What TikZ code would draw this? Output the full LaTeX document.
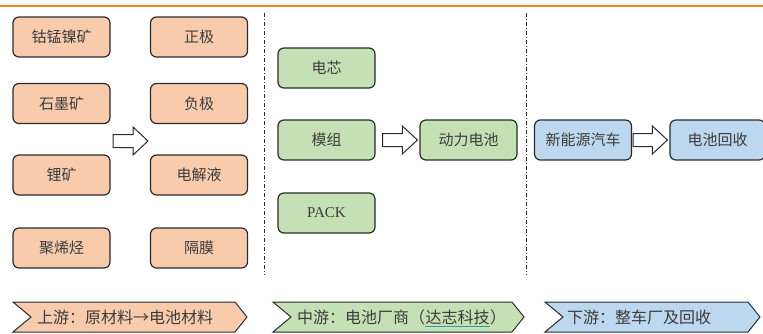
\documentclass[tikz,border=0pt]{standalone}
\usepackage{fontspec}
\setmainfont{Liberation Serif}
\newfontfamily\cjk{Noto Sans CJK SC}
\usetikzlibrary{calc}
\definecolor{orfill}{HTML}{F8CBAD}
\definecolor{grfill}{HTML}{C5E0B4}
\definecolor{blfill}{HTML}{BDD7EE}
\definecolor{edgec}{HTML}{2B2B2B}
\definecolor{txt}{HTML}{3C3C3C}
\definecolor{topline}{HTML}{F0870F}
\definecolor{linkc}{HTML}{2AA0A8}
\newcommand{\blkarrow}[2]{%
  \path[blockarrow] let \p1=(#1), \p2=(#2) in
    (\x1,\y1+6.5) -- (\x2-15,\y1+6.5) -- (\x2-15,\y1+14) -- (\x2,\y1)
    -- (\x2-15,\y1-14) -- (\x2-15,\y1-6.5) -- (\x1,\y1-6.5) -- cycle;}
\newcommand{\chevron}[5]{% x0, xbody, fill, ...
  \path[chev, fill=#3] (#1,31) -- (#2,31) -- (#2+12,16) -- (#2,1) -- (#1,1) -- (#1+18,16) -- cycle;}
\begin{document}
\begin{tikzpicture}[x=1pt,y=1pt,
  box/.style={draw=edgec, line width=1.2pt, rounded corners=6pt,
    minimum width=97pt, minimum height=40pt, inner sep=0pt, text=txt,
    font=\cjk\fontsize{15}{18}\selectfont},
  obox/.style={box, fill=orfill},
  gbox/.style={box, fill=grfill},
  bbox/.style={box, fill=blfill},
  blockarrow/.style={draw=edgec, fill=white, line width=1pt, line join=miter},
  chev/.style={draw=edgec, line width=1pt, line join=miter},
  lab/.style={text=txt, inner sep=0pt, font=\cjk\fontsize{16}{19}\selectfont},
  sep/.style={draw=edgec, line width=1pt, dash pattern=on 4pt off 2pt on 1pt off 2pt}]
\useasboundingbox (0,0) rectangle (763,333);
\draw[topline, line width=1.5pt] (0,327) -- (763,327);

% upstream
\node[obox] (a1) at (61.5,296) {钴锰镍矿};
\node[obox] (a2) at (61.5,229.5) {石墨矿};
\node[obox] (a3) at (61.5,158) {锂矿};
\node[obox] (a4) at (61.5,85) {聚烯烃};
\node[obox] (b1) at (199,296) {正极};
\node[obox] (b2) at (199,229.5) {负极};
\node[obox] (b3) at (199,158) {电解液};
\node[obox] (b4) at (199,85) {隔膜};
\coordinate (la) at (113,192);
\coordinate (lb) at (148,192);
\blkarrow{la}{lb}

% separators
\coordinate (s1t) at (264,320); \coordinate (s1b) at (264,58);
\coordinate (s2t) at (526,320); \coordinate (s2b) at (526,58);
\draw[sep] (s1t) -- (s1b);
\draw[sep] (s2t) -- (s2b);

% midstream
\node[gbox] (c1) at (326.5,265) {电芯};
\node[gbox] (c2) at (326.5,193) {模组};
\node[gbox, font=\fontsize{15}{18}\selectfont] (c3) at (326.5,120) {PACK};
\node[gbox] (d1) at (468.5,193) {动力电池};
\coordinate (ma) at ($(c2.east)+(7,0)$);
\coordinate (mb) at ($(d1.west)+(-2,0)$);
\blkarrow{ma}{mb}

% downstream
\node[bbox] (e1) at (583,193) {新能源汽车};
\node[bbox, minimum width=95pt] (e2) at (717.5,193) {电池回收};
\coordinate (da) at ($(e1.east)+(1,0)$);
\coordinate (db) at ($(e2.west)+(-2,0)$);
\blkarrow{da}{db}

% bottom chevrons
\chevron{13}{235}{orfill}{}{}
\chevron{273}{512}{grfill}{}{}
\chevron{545}{748}{blfill}{}{}
\node[lab, anchor=west] (t1) at (37,16) {上游：原材料→电池材料};
\node[lab, anchor=west] (t2a) at (297,16) {中游：电池厂商（};
\node[lab, anchor=west] (t2b) at (t2a.east) {达志科技};
\node[lab, anchor=west] (t2c) at (t2b.east) {）};
\draw[linkc, line width=1pt] ($(t2b.south west)+(0,-1.5)$) -- ($(t2b.south east)+(0,-1.5)$);
\node[lab, anchor=west] (t3) at (567,16) {下游：整车厂及回收};
\end{tikzpicture}
\end{document}
